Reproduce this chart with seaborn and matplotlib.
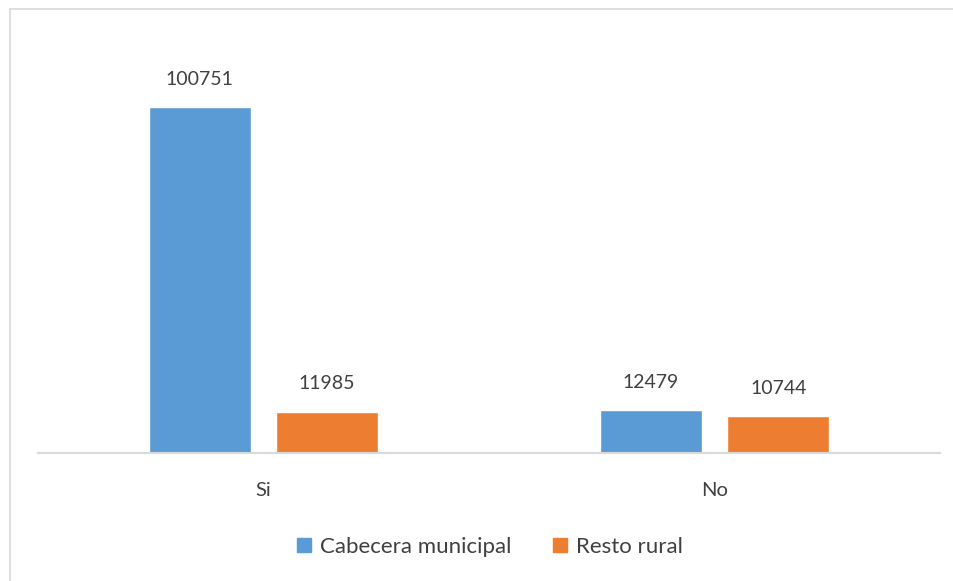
import matplotlib
matplotlib.use("Agg")
import matplotlib.pyplot as plt
import seaborn as sns
import pandas as pd
from matplotlib.lines import Line2D

# data
categories = ["Si", "No"]
series = ["Cabecera municipal", "Resto rural"]
cabecera = [100751, 12479]
resto = [11985, 10744]
colors = ["#5B9BD5", "#ED7D31"]

df = pd.DataFrame({
    "cat": categories * 2,
    "serie": [series[0]] * 2 + [series[1]] * 2,
    "valor": cabecera + resto,
})

sns.set_theme(style="white")
plt.rcParams["font.family"] = ["Lato", "DejaVu Sans"]
txt = "#404040"

fig = plt.figure(figsize=(9.54, 5.81), dpi=100)
ax = fig.add_axes([38 / 954, 128 / 581, 902 / 954, 551 / 581 - 128 / 581])

sns.barplot(data=df, x="cat", y="valor", hue="serie", order=categories,
            hue_order=series, palette=colors, width=0.565, gap=0.2,
            saturation=1, legend=False, ax=ax)

for cont in ax.containers:
    ax.bar_label(cont, fmt="%d", padding=14, fontsize=14, color=txt)

ax.set_xlim(-0.5, 1.5)
ax.set_ylim(0, 100751 * 423 / 346)
ax.set_xlabel("")
ax.set_ylabel("")
ax.set_yticks([])
for s in ["top", "right", "left"]:
    ax.spines[s].set_visible(False)
ax.spines["bottom"].set_color("#D9D9D9")
ax.spines["bottom"].set_linewidth(1.5)
ax.tick_params(axis="x", length=0, pad=21, labelsize=14.5, labelcolor=txt)

# chart area border
fig.add_artist(Line2D([10 / 954, 10 / 954], [0, 1 - 9 / 581], color="#D9D9D9", lw=1.2))
fig.add_artist(Line2D([10 / 954, 1], [1 - 9 / 581, 1 - 9 / 581], color="#D9D9D9", lw=1.2))

handles = [plt.Rectangle((0, 0), 1, 1, color=c) for c in colors]
fig.legend(handles, series, loc="center", bbox_to_anchor=(490 / 954, 1 - 547 / 581),
           ncol=2, frameon=False, fontsize=16, handlelength=0.63, handleheight=0.63,
           handletextpad=0.4, columnspacing=1.85, labelcolor=txt)

fig.savefig("out.png", dpi=100, facecolor="white")
